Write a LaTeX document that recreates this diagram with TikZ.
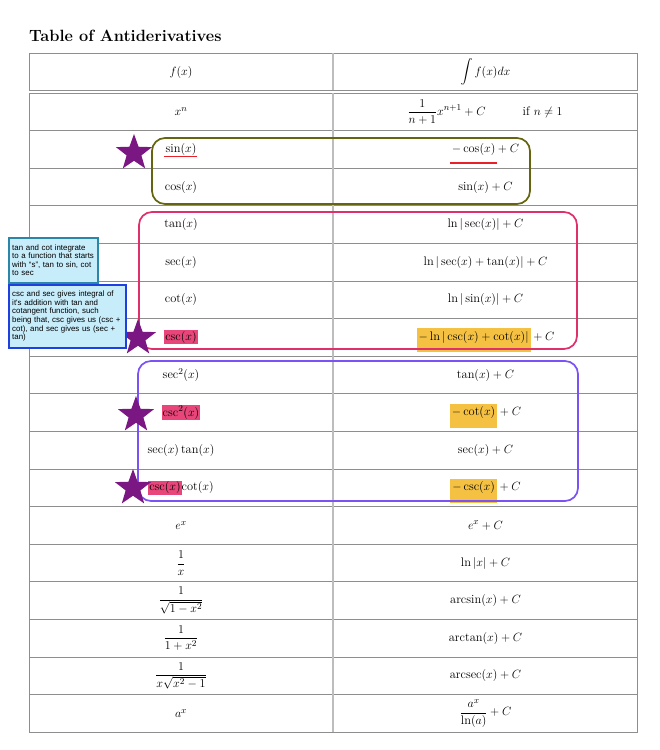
\documentclass[tikz,border=0pt]{standalone}
\usepackage{amsmath}
\usepackage{fontspec}
\newfontfamily\notefont{Liberation Sans}
\usetikzlibrary{shapes.geometric}
\definecolor{tblline}{HTML}{8E8E8E}
\definecolor{tblmid}{HTML}{BDBDBD}
\definecolor{olivebox}{HTML}{66650F}
\definecolor{crimbox}{HTML}{E0306A}
\definecolor{violbox}{HTML}{7B52F5}
\definecolor{starcol}{HTML}{7A1783}
\definecolor{hlpink}{HTML}{E8457A}
\definecolor{hlorange}{HTML}{F5C142}
\definecolor{notefill}{HTML}{C7ECFA}
\definecolor{noteA}{HTML}{2C86A8}
\definecolor{noteB}{HTML}{1F3FE0}
\definecolor{ulred}{HTML}{E8202A}
\newcommand\hlpk[1]{{\setlength\fboxsep{1pt}\colorbox{hlpink}{$#1$}}}
\newcommand\hlor[1]{{\setlength\fboxsep{2pt}\smash{\colorbox{hlorange}{\rule[-10pt]{0pt}{20pt}$#1$}}\vphantom{$#1$}}}
\tikzset{
  tline/.style={draw=tblline, line width=0.9pt},
  mline/.style={draw=tblmid, line width=1.6pt},
  cell/.style={inner sep=1pt, font=\fontsize{12.4}{15}\selectfont},
  groupbox/.style={line width=1.7pt, rounded corners=13pt},
  mark star/.style={star, star points=5, star point ratio=2.45, minimum size=38pt, inner sep=0pt, fill=starcol, draw=none},
  note/.style={anchor=north west, fill=notefill, line width=1.5pt, inner xsep=3.5pt, inner ysep=2pt, align=left, font=\notefont\fontsize{7.9}{8.6}\selectfont}
}
\begin{document}
\begin{tikzpicture}[x=1pt,y=-1pt]
\useasboundingbox (0,0) rectangle (659,750);
% title
\node[anchor=base west, inner sep=0pt, font=\fontsize{16.3}{19}\selectfont\bfseries] (title) at (29,41) {Table of Antiderivatives};
% table frame
\draw[tline] (29,53) rectangle (637,90);
\draw[tline] (29,93) rectangle (637,732);
\foreach \y in {130.6,168.2,205.8,243.4,281,318.6,356.2,393.8,431.4,469,506.6,544.2,581.8,619.4,657,694.6} {
  \draw[tline] (29,\y) -- (637,\y);
}
\draw[mline] (333,53) -- (333,90);
\draw[mline] (333,93) -- (333,732);
% header
\node[cell] (h1) at (181,72) {$f(x)$};
\node[cell] (h2) at (485.5,72) {$\displaystyle\int f(x)dx$};
% rows
\node[cell] (l0) at (181,111.8) {$x^n$};
\node[cell] (r0) at (485,111.8) {$\dfrac{1}{n+1}x^{n+1}+C \qquad\quad \text{if } n\neq 1$};
\node[cell] (l1) at (181,149.4) {$\sin(x)$};
\node[cell] (r1) at (485.5,149.4) {$-\cos(x)+C$};
\node[cell] (l2) at (181,187) {$\cos(x)$};
\node[cell] (r2) at (485.5,187) {$\sin(x)+C$};
\node[cell] (l3) at (181,224.6) {$\tan(x)$};
\node[cell] (r3) at (485.5,224.6) {$\ln|\sec(x)|+C$};
\node[cell] (l4) at (181,262.2) {$\sec(x)$};
\node[cell] (r4) at (485.5,262.2) {$\ln|\sec(x)+\tan(x)|+C$};
\node[cell] (l5) at (181,299.8) {$\cot(x)$};
\node[cell] (r5) at (485.5,299.8) {$\ln|\sin(x)|+C$};
\node[cell] (l6) at (181,337.4) {\hlpk{\csc(x)}};
\node[cell] (r6) at (485.5,337.4) {\hlor{-\ln|\csc(x)+\cot(x)|}${}+C$};
\node[cell] (l7) at (181,375) {$\sec^2(x)$};
\node[cell] (r7) at (485.5,375) {$\tan(x)+C$};
\node[cell] (l8) at (181,412.6) {\hlpk{\csc^2(x)}};
\node[cell] (r8) at (485.5,412.6) {\hlor{-\cot(x)}${}+C$};
\node[cell] (l9) at (181,450.2) {$\sec(x)\tan(x)$};
\node[cell] (r9) at (485.5,450.2) {$\sec(x)+C$};
\node[cell] (l10) at (181,487.8) {\hlpk{\csc(x)}$\cot(x)$};
\node[cell] (r10) at (485.5,487.8) {\hlor{-\csc(x)}${}+C$};
\node[cell] (l11) at (181,525.4) {$e^x$};
\node[cell] (r11) at (485.5,525.4) {$e^x+C$};
\node[cell] (l12) at (181,563) {$\dfrac{1}{x}$};
\node[cell] (r12) at (485.5,563) {$\ln|x|+C$};
\node[cell] (l13) at (181,600.6) {$\dfrac{1}{\sqrt{1-x^2}}$};
\node[cell] (r13) at (485.5,600.6) {$\arcsin(x)+C$};
\node[cell] (l14) at (181,638.2) {$\dfrac{1}{1+x^2}$};
\node[cell] (r14) at (485.5,638.2) {$\arctan(x)+C$};
\node[cell] (l15) at (181,675.8) {$\dfrac{1}{x\sqrt{x^2-1}}$};
\node[cell] (r15) at (485.5,675.8) {$\operatorname{arcsec}(x)+C$};
\node[cell] (l16) at (181,713.4) {$a^x$};
\node[cell] (r16) at (485.5,713.4) {$\dfrac{a^x}{\ln(a)}+C$};
% underlines
\draw[ulred, line width=0.7pt] (164,156) -- (197,156);
\draw[ulred, line width=1.5pt] (450,163) -- (497,163);
% group boxes
\draw[groupbox, draw=olivebox] (152,138) rectangle (530,204);
\draw[groupbox, draw=crimbox] (139,212) rectangle (577,349);
\draw[groupbox, draw=violbox] (138,361) rectangle (578,501);
% stars
\node[mark star] (s1) at (134,153) {};
\node[mark star] (s2) at (138,338) {};
\node[mark star] (s3) at (136,415) {};
\node[mark star] (s4) at (133,488) {};
% notes
\node[note, draw=noteA, text width=82pt, minimum height=45pt] (nA) at (8,237) {tan and cot integrate\\to a function that starts\\with “s”, tan to sin, cot\\to sec};
\node[note, draw=noteB, text width=110pt, minimum height=63pt] (nB) at (8,284) {csc and sec gives integral of\\it's addition with tan and\\cotangent function, such\\being that, csc gives us (csc +\\cot), and sec gives us (sec +\\tan)};
\end{tikzpicture}
\end{document}
